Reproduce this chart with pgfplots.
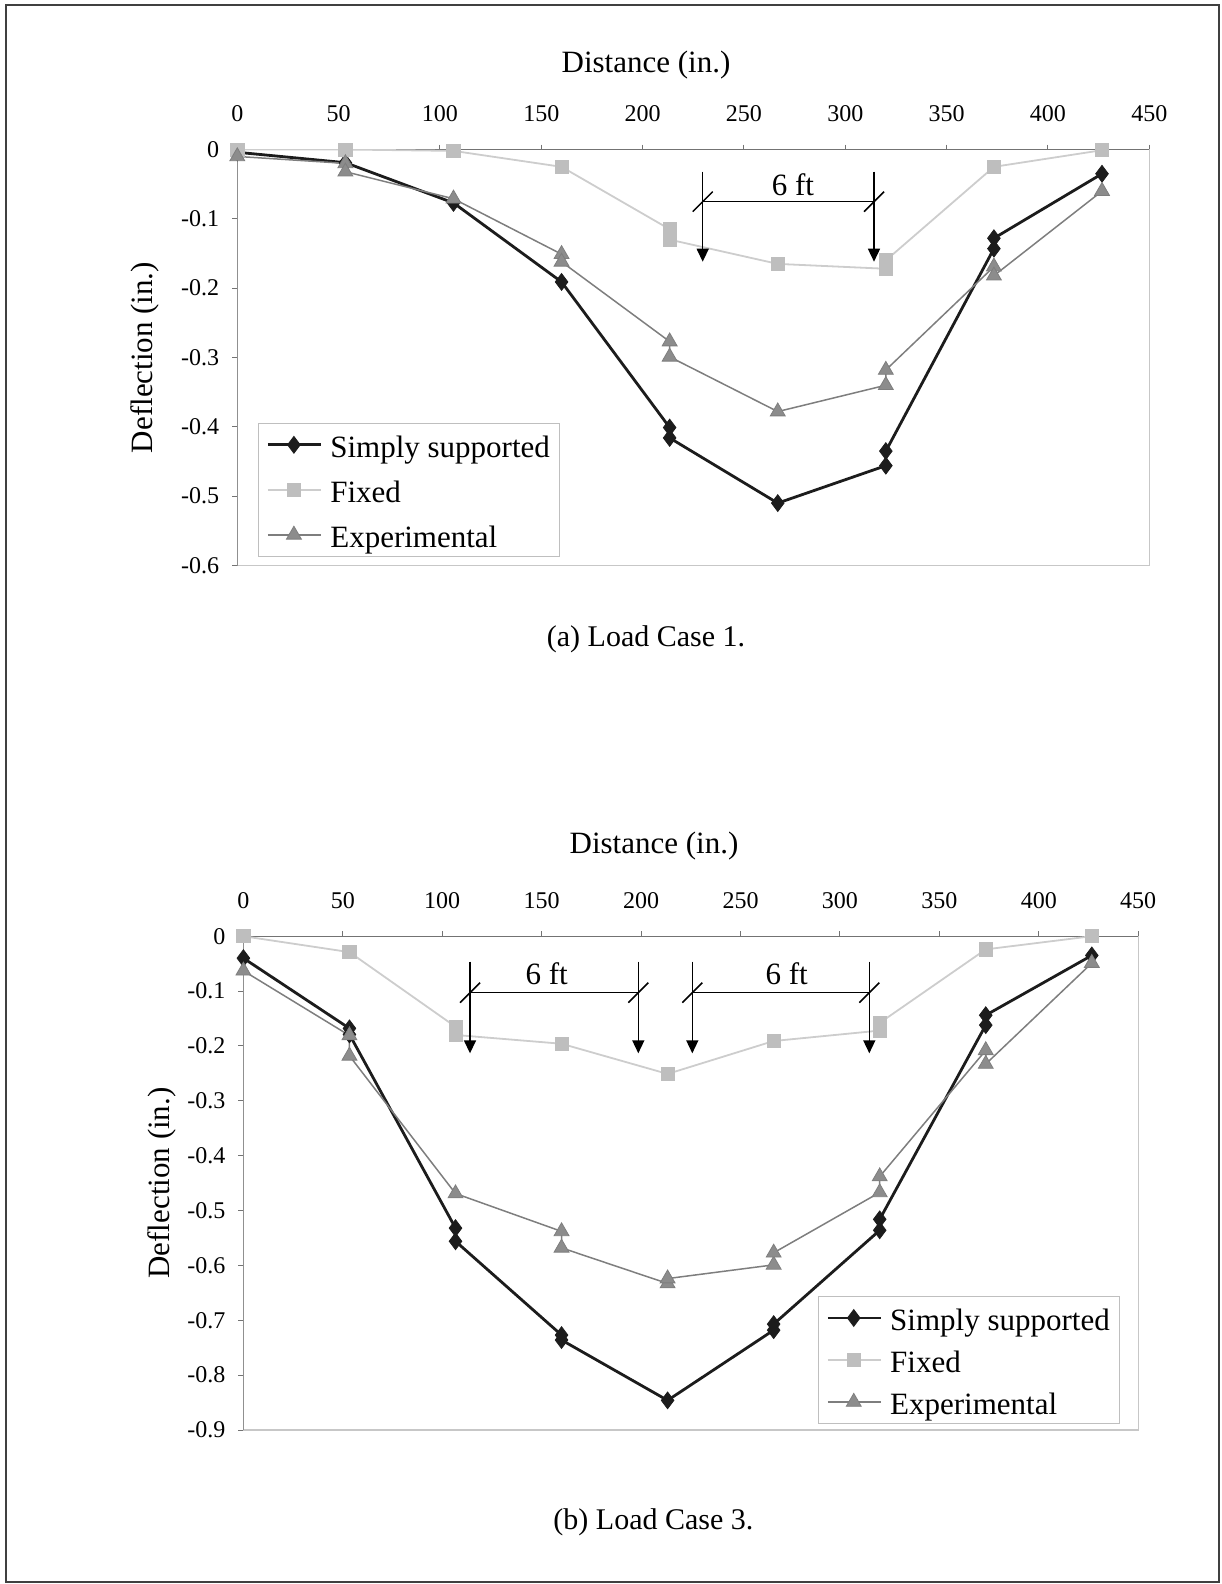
\documentclass[border=0pt]{standalone}
\usepackage{fontspec}
\setmainfont{Liberation Serif}
\usepackage{pgfplots}
\pgfplotsset{compat=1.18}
\usetikzlibrary{arrows.meta}

\definecolor{ssC}{HTML}{1C1C1C}
\definecolor{fxC}{HTML}{CDCDCD}
\definecolor{fxM}{HTML}{BEBEBE}
\definecolor{exC}{HTML}{7E7E7E}
\definecolor{exM}{HTML}{8C8C8C}

\pgfplotsset{
  defl/.style={
    scale only axis,
    xmin=0, xmax=450,
    xtick={0,50,100,150,200,250,300,350,400,450},
    xticklabels={0,50,100,150,200,250,300,350,400,450},
    axis line style={draw=black!22, line width=0.6pt},
    xtick pos=right, xticklabel pos=right,
    ytick pos=left,
    tick align=outside,
    major tick length=2.5pt,
    tick style={draw=black!55, line width=0.5pt},
    ticklabel style={font=\fontsize{12}{14}\selectfont},
    xticklabel style={anchor=center, yshift=15.5pt},
    yticklabel style={xshift=-3pt},
    legend cell align=left,
    legend style={draw=black!25, line width=0.5pt,
      font=\fontsize{15.5}{18}\selectfont,
      row sep=3pt, inner xsep=4pt, inner ysep=1pt,
      nodes={inner sep=1pt, text height=14.85pt, text depth=2.65pt},
      /tikz/every odd column/.append style={column sep=3pt}},
    legend image code/.code={\draw[mark repeat=2,mark phase=2,##1] plot coordinates {(0pt,0pt) (13pt,0pt) (26.5pt,0pt)};},
  },
  ss/.style={color=ssC, line width=1.4pt, mark=diamond*, mark size=4.2pt, mark options={fill=ssC, draw=ssC, line width=0.4pt}},
  fx/.style={color=fxC, line width=0.9pt, mark=square*, mark size=3.3pt, mark options={fill=fxM, draw=fxM, line width=0.4pt}},
  ex/.style={color=exC, line width=0.75pt, mark=triangle*, mark size=4.3pt, mark options={fill=exM, draw=exC, line width=0.4pt}},
}

\begin{document}
\begin{tikzpicture}
\useasboundingbox (0,0) rectangle (610.5pt,-792pt);
\draw[black!75, line width=1pt] (3pt,-2.5pt) rectangle (609.5pt,-791pt);

% ---------------- (a) Load Case 1 ----------------
\begin{axis}[defl, at={(118.65pt,-74.75pt)}, anchor=north west,
  width=456pt, height=208pt,
  ymin=-0.6, ymax=0,
  ytick={-0.6,-0.5,-0.4,-0.3,-0.2,-0.1,0},
  yticklabels={-0.6,-0.5,-0.4,-0.3,-0.2,-0.1,0},
  legend style={at={(0.0227,0.343)}, anchor=north west}]
\draw[black!55, line width=0.6pt] (rel axis cs:0,0) -- (rel axis cs:0,1) -- (rel axis cs:1,1);
\addplot[ss] coordinates {(0,-0.004) (53.33,-0.019) (106.67,-0.077) (160,-0.191) (213.33,-0.401) (213.33,-0.416) (266.67,-0.510) (320,-0.456) (320,-0.435) (373.33,-0.143) (373.33,-0.128) (426.67,-0.035)};
\addlegendentry{Simply supported}
\addplot[fx] coordinates {(0,0) (53.33,0) (106.67,-0.002) (160,-0.025) (213.33,-0.115) (213.33,-0.130) (266.67,-0.165) (320,-0.172) (320,-0.160) (373.33,-0.025) (426.67,-0.001)};
\addlegendentry{Fixed}
\addplot[ex] coordinates {(0,-0.010) (53.33,-0.020) (53.33,-0.032) (106.67,-0.071) (160,-0.151) (160,-0.162) (213.33,-0.277) (213.33,-0.299) (266.67,-0.378) (320,-0.340) (320,-0.318) (373.33,-0.169) (373.33,-0.182) (426.67,-0.060)};
\addlegendentry{Experimental}
\end{axis}

% ---------------- (b) Load Case 3 ----------------
\begin{axis}[defl, at={(121.7pt,-468.1pt)}, anchor=north west,
  width=447.4pt, height=246.9pt,
  ymin=-0.9, ymax=0,
  ytick={-0.9,-0.8,-0.7,-0.6,-0.5,-0.4,-0.3,-0.2,-0.1,0},
  yticklabels={-0.9,-0.8,-0.7,-0.6,-0.5,-0.4,-0.3,-0.2,-0.1,0},
  legend style={at={(0.642,0.2714)}, anchor=north west, row sep=1.5pt}]
\draw[black!55, line width=0.6pt] (rel axis cs:0,0) -- (rel axis cs:0,1) -- (rel axis cs:1,1);
\addplot[ss] coordinates {(0,-0.040) (53.33,-0.168) (53.33,-0.179) (106.67,-0.532) (106.67,-0.556) (160,-0.727) (160,-0.736) (213.33,-0.846) (266.67,-0.718) (266.67,-0.707) (320,-0.536) (320,-0.516) (373.33,-0.162) (373.33,-0.144) (426.67,-0.035)};
\addlegendentry{Simply supported}
\addplot[fx] coordinates {(0,0) (53.33,-0.029) (106.67,-0.165) (106.67,-0.180) (160,-0.196) (213.33,-0.251) (266.67,-0.191) (320,-0.172) (320,-0.158) (373.33,-0.024) (426.67,0)};
\addlegendentry{Fixed}
\addplot[ex] coordinates {(0,-0.063) (53.33,-0.181) (53.33,-0.218) (106.67,-0.469) (160,-0.538) (160,-0.568) (213.33,-0.633) (213.33,-0.624) (266.67,-0.599) (266.67,-0.577) (320,-0.467) (320,-0.438) (373.33,-0.208) (373.33,-0.233) (426.67,-0.049)};
\addlegendentry{Experimental}
\end{axis}

% titles, axis labels, captions
\node[font=\fontsize{15.5}{18}\selectfont] at (323pt,-32.5pt) {Distance (in.)};
\node[font=\fontsize{15.5}{18}\selectfont] at (327pt,-423pt) {Distance (in.)};
\node[font=\fontsize{15.5}{18}\selectfont, rotate=90] at (72.2pt,-178.75pt) {Deflection (in.)};
\node[font=\fontsize{15.5}{18}\selectfont, rotate=90] at (80.8pt,-591.5pt) {Deflection (in.)};
\node[font=\fontsize{15}{18}\selectfont] at (323pt,-319.6pt) {(a) Load Case 1.};
\node[font=\fontsize{15}{18}\selectfont] at (326.7pt,-761pt) {(b) Load Case 3.};

% load annotations (a)
\begin{scope}[line width=0.75pt, black]
\draw[-{Triangle[length=6.5pt,width=6pt]}] (351.35pt,-85.85pt) -- (351.35pt,-130.85pt);
\draw[-{Triangle[length=6.5pt,width=6pt]}] (437pt,-85.85pt) -- (437pt,-130.85pt);
\draw (351.35pt,-100.85pt) -- (437pt,-100.85pt);
\draw (346.35pt,-105.85pt) -- (356.35pt,-95.85pt);
\draw (432pt,-105.85pt) -- (442pt,-95.85pt);
\node[font=\fontsize{15.5}{18}\selectfont] at (396.5pt,-92.5pt) {6 ft};
% load annotations (b)
\draw[-{Triangle[length=6.5pt,width=6pt]}] (235pt,-480.85pt) -- (235pt,-526.65pt);
\draw[-{Triangle[length=6.5pt,width=6pt]}] (319.15pt,-480.85pt) -- (319.15pt,-526.65pt);
\draw[-{Triangle[length=6.5pt,width=6pt]}] (346.15pt,-480.85pt) -- (346.15pt,-526.65pt);
\draw[-{Triangle[length=6.5pt,width=6pt]}] (434.65pt,-480.85pt) -- (434.65pt,-526.65pt);
\draw (235pt,-496.35pt) -- (319.15pt,-496.35pt);
\draw (346.15pt,-496.35pt) -- (434.65pt,-496.35pt);
\draw (230pt,-501.35pt) -- (240pt,-491.35pt);
\draw (314.15pt,-501.35pt) -- (324.15pt,-491.35pt);
\draw (341.15pt,-501.35pt) -- (351.15pt,-491.35pt);
\draw (429.65pt,-501.35pt) -- (439.65pt,-491.35pt);
\node[font=\fontsize{15.5}{18}\selectfont] at (273.35pt,-486.65pt) {6 ft};
\node[font=\fontsize{15.5}{18}\selectfont] at (393.35pt,-486.65pt) {6 ft};
\end{scope}
\end{tikzpicture}
\end{document}
